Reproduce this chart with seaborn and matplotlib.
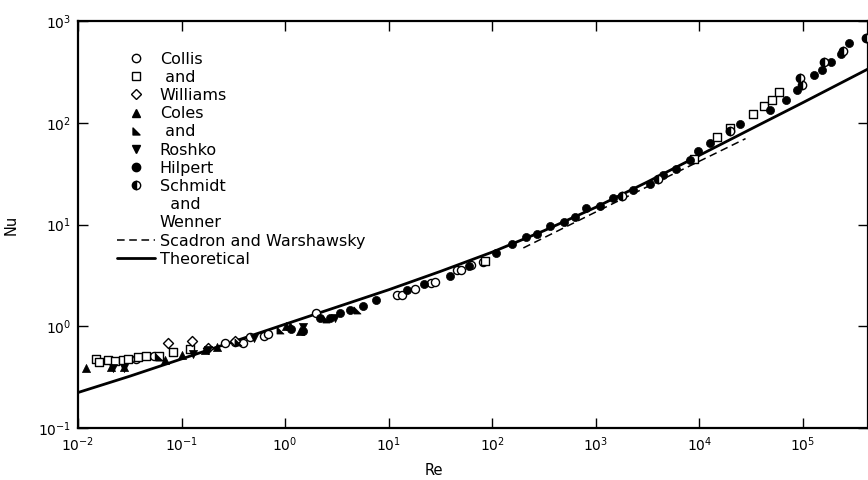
import numpy as np
import pandas as pd
import matplotlib
matplotlib.use("Agg")
import matplotlib.pyplot as plt
from matplotlib.lines import Line2D
from matplotlib.path import Path
from matplotlib.ticker import NullFormatter, NullLocator
import seaborn as sns

# Collis and Williams (open markers)
cw_circle_re = [0.036, 0.054, 0.26, 0.33, 0.39, 0.46, 0.62, 0.69, 2.0, 12, 13.5, 17.8, 25.7, 28.2, 45.7, 50, 63, 81]
cw_circle_nu = [0.48, 0.51, 0.69, 0.71, 0.69, 0.78, 0.81, 0.85, 1.35, 2.04, 2.04, 2.34, 2.69, 2.75, 3.55, 3.55, 3.98, 4.27]
cw_square_re = [0.0148, 0.0158, 0.0195, 0.0229, 0.0269, 0.0302, 0.038, 0.0457, 0.060, 0.083, 0.12,
                85, 8900, 15000, 20000, 33000, 42000, 51000, 59000]
cw_square_nu = [0.48, 0.45, 0.47, 0.46, 0.47, 0.48, 0.50, 0.51, 0.51, 0.56, 0.60,
                4.4, 44, 72, 89, 123, 145, 166, 200]
cw_diamond_re = [0.074, 0.125, 0.18, 0.33]
cw_diamond_nu = [0.69, 0.72, 0.62, 0.72]

# Coles and Roshko (filled markers)
cr_up_re = [0.012, 0.021, 0.028, 0.069, 0.10, 0.17, 0.22, 1.12, 1.02, 1.38]
cr_up_nu = [0.39, 0.40, 0.40, 0.47, 0.52, 0.59, 0.63, 1.02, 1.0, 0.91]
cr_half_re = [0.06, 0.35, 0.9, 2.5, 5]
cr_half_nu = [0.50, 0.70, 0.92, 1.18, 1.45]
cr_down_re = [0.022, 0.028, 0.13, 0.18, 0.5, 1.5, 3]
cr_down_nu = [0.39, 0.39, 0.54, 0.58, 0.77, 0.98, 1.2]

# Hilpert
hil_re = [1.15, 1.48, 2.19, 2.69, 3.39, 4.27, 5.62, 7.59, 15, 22, 38.9, 60, 110, 155, 214, 269, 363, 490,
          631, 813, 1100, 1480, 2290, 3310, 4470, 6030, 8130, 9770, 12600, 24500, 47900, 69200, 87100,
          129000, 155000, 186000, 234000, 282000]
hil_nu = [0.95, 0.91, 1.20, 1.20, 1.35, 1.45, 1.58, 1.82, 2.3, 2.6, 3.16, 3.9, 5.25, 6.46, 7.59, 8.13, 9.77, 10.7,
          12.0, 14.5, 15.1, 18.2, 21.9, 25.1, 30.9, 35.5, 42.7, 52.5, 63.1, 97.7, 135, 166, 209,
          295, 331, 398, 479, 603]

# Schmidt and Wenner
sw_re = [1780, 3980, 20000, 95000, 99000, 162000, 245000, 407000]
sw_nu = [19.1, 28.2, 83, 275, 234, 398, 513, 676]

# Scadron and Warshawsky
scw_re = [200, 1000, 5000, 28000]
scw_nu = [5.9, 13.3, 29.7, 70]

# Theoretical
th_re = [0.01, 0.0316, 0.1, 0.316, 1, 3.16, 10, 31.6, 100, 316, 1000, 3160, 1e4, 3.16e4, 1e5, 4.47e5]
th_nu = [0.224, 0.324, 0.479, 0.708, 1.05, 1.55, 2.29, 3.47, 5.37, 8.71, 14.8, 26.3, 47.9, 87.1, 158, 347]

x_ticks = [1e-2, 1e-1, 1e0, 1e1, 1e2, 1e3, 1e4, 1e5]
y_ticks = [1e-1, 1e0, 1e1, 1e2, 1e3]

sns.set_style("ticks")
plt.rcParams["font.family"] = ["DejaVu Sans"]
plt.rcParams.update({"text.color": "black", "axes.labelcolor": "black",
                     "xtick.color": "black", "ytick.color": "black", "axes.edgecolor": "black"})

fig = plt.figure(figsize=(8.68, 4.8), dpi=100)
ax = fig.add_axes([0.0899, 0.108, 0.9101, 0.848])
ax.set_xscale("log")
ax.set_yscale("log")

tri_half = Path([(-1, -1), (-1, 1), (1, -1), (-1, -1)],
                [Path.MOVETO, Path.LINETO, Path.LINETO, Path.CLOSEPOLY])

sns.lineplot(x=th_re, y=th_nu, ax=ax, color="black", lw=2.0, sort=False)
sns.lineplot(x=scw_re, y=scw_nu, ax=ax, color="black", lw=1.1, sort=False, dashes=False,
             linestyle=(0, (5, 3)))

open_kw = dict(facecolor="white", edgecolor="black", linewidth=1.0, zorder=3)
fill_kw = dict(color="black", edgecolor="black", linewidth=0.5, zorder=3)
sns.scatterplot(x=cw_circle_re, y=cw_circle_nu, ax=ax, marker="o", s=34, **open_kw)
sns.scatterplot(x=cw_square_re, y=cw_square_nu, ax=ax, marker="s", s=34, **open_kw)
sns.scatterplot(x=cw_diamond_re, y=cw_diamond_nu, ax=ax, marker="D", s=26, **open_kw)
sns.scatterplot(x=cr_up_re, y=cr_up_nu, ax=ax, marker="^", s=34, **fill_kw)
sns.scatterplot(x=cr_half_re, y=cr_half_nu, ax=ax, marker=tri_half, s=26, **fill_kw)
sns.scatterplot(x=cr_down_re, y=cr_down_nu, ax=ax, marker="v", s=34, **fill_kw)
sns.scatterplot(x=hil_re, y=hil_nu, ax=ax, marker="o", s=34, **fill_kw)
ax.plot(sw_re, sw_nu, ls="none", marker="o", ms=6, mfc="black", mfcalt="white", mec="black",
        mew=1.0, fillstyle="left", zorder=3)

ax.set_xticks(x_ticks)
ax.set_yticks(y_ticks)
ax.xaxis.set_minor_locator(NullLocator())
ax.yaxis.set_minor_locator(NullLocator())
ax.set_xlim(0.01, 10 ** 5.63)
ax.set_ylim(0.1, 1000)

ax.tick_params(which="major", direction="in", length=7, width=1.0, top=True, right=True,
               labelsize=10)
ax.tick_params(axis="x", pad=5)
ax.tick_params(axis="y", pad=5)
for sp in ax.spines.values():
    sp.set_linewidth(1.6)

ax.set_xlabel("Re", fontsize=10.5)
ax.set_ylabel("Nu", fontsize=10.5)
ax.xaxis.set_label_coords(0.45, -0.085)
ax.yaxis.set_label_coords(-0.075, 0.5)

# legend
ms = 6
blank = Line2D([], [], ls="none")
handles = [
    Line2D([], [], ls="none", marker="o", ms=ms, mfc="white", mec="black"),
    Line2D([], [], ls="none", marker="s", ms=ms, mfc="white", mec="black"),
    Line2D([], [], ls="none", marker="D", ms=ms - 1, mfc="white", mec="black"),
    Line2D([], [], ls="none", marker="^", ms=ms, color="black"),
    Line2D([], [], ls="none", marker=tri_half, ms=ms - 1, color="black"),
    Line2D([], [], ls="none", marker="v", ms=ms, color="black"),
    Line2D([], [], ls="none", marker="o", ms=ms, color="black"),
    Line2D([], [], ls="none", marker="o", ms=ms, mfc="black", mfcalt="white", mec="black",
           fillstyle="left"),
    blank,
    blank,
    Line2D([], [], color="black", lw=1.1, ls=(0, (5, 3))),
    Line2D([], [], color="black", lw=2.0),
]
labels = ["Collis", " and", "Williams", "Coles", " and", "Roshko", "Hilpert",
          "Schmidt", "  and", "Wenner", "Scadron and Warshawsky", "Theoretical"]
ax.legend(handles, labels, loc="upper left", bbox_to_anchor=(0.049, 0.925), frameon=False,
          fontsize=11.5, handlelength=2.4, handletextpad=0.3, labelspacing=0.2, borderpad=0,
          borderaxespad=0, labelcolor="black")

fig.savefig("out.png", dpi=100)
